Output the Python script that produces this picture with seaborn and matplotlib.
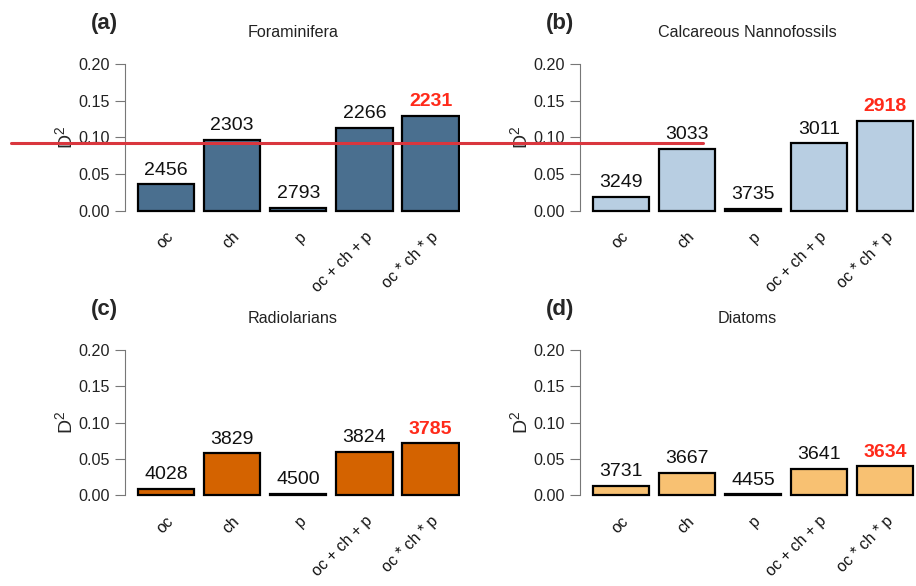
import seaborn as sns
import pandas as pd
import matplotlib.pyplot as plt
import matplotlib.transforms as mtransforms
from matplotlib.lines import Line2D

models = ["oc", "ch", "p", "oc + ch + p", "oc * ch * p"]

# D2 values
foram_d2 = [0.0366, 0.097, 0.004, 0.113, 0.1295]
nanno_d2 = [0.0192, 0.085, 0.003, 0.0924, 0.123]
radio_d2 = [0.0087, 0.058, 0.0018, 0.060, 0.0714]
diatom_d2 = [0.0132, 0.0305, 0.001, 0.036, 0.0396]

# numbers printed above the bars (AIC)
foram_aic = ["2456", "2303", "2793", "2266", "2231"]
nanno_aic = ["3249", "3033", "3735", "3011", "2918"]
radio_aic = ["4028", "3829", "4500", "3824", "3785"]
diatom_aic = ["3731", "3667", "4455", "3641", "3634"]

titles = ["Foraminifera", "Calcareous Nannofossils", "Radiolarians", "Diatoms"]
tags = ["(a)", "(b)", "(c)", "(d)"]
colors = ["#4a6f8f", "#b8cee2", "#d46300", "#f8c172"]
ref_level = 0.093

sns.set_style("white")
plt.rcParams["font.family"] = ["Liberation Sans", "DejaVu Sans"]
plt.rcParams["mathtext.fontset"] = "custom"
plt.rcParams["mathtext.rm"] = "Liberation Sans"

fig = plt.figure(figsize=(9.16, 5.86), dpi=100)
boxes = [
    [0.1365, 0.635, 0.366, 0.262],
    [0.633, 0.635, 0.366, 0.262],
    [0.1365, 0.150, 0.366, 0.259],
    [0.633, 0.150, 0.366, 0.259],
]

series = [(foram_d2, foram_aic), (nanno_d2, nanno_aic),
          (radio_d2, radio_aic), (diatom_d2, diatom_aic)]

axes = []
for i, (d2, aic) in enumerate(series):
    ax = fig.add_axes(boxes[i])
    df = pd.DataFrame({"model": models, "d2": d2})
    sns.barplot(data=df, x="model", y="d2", color=colors[i], saturation=1,
                edgecolor="black", linewidth=1.6, width=0.85, ax=ax)
    ax.set_xlim(-0.62, 4.45)
    ax.set_ylim(-0.004, 0.205)
    ax.set_yticks([0, 0.05, 0.10, 0.15, 0.20])
    ax.set_yticklabels(["0.00", "0.05", "0.10", "0.15", "0.20"])
    for s in ["top", "right", "bottom"]:
        ax.spines[s].set_visible(False)
    ax.spines["left"].set_bounds(0, 0.2)
    ax.spines["left"].set_color("#777777")
    ax.tick_params(axis="y", length=7, color="#777777", labelsize=11.6,
                   labelcolor="#222222", pad=4, left=True)
    ax.tick_params(axis="x", length=0, labelsize=11.4, pad=11,
                   labelcolor="#111111")
    plt.setp(ax.get_xticklabels(), rotation=45, ha="right",
             rotation_mode="anchor")
    ax.set_xlabel("")
    ax.set_ylabel("D$^2$", fontsize=14, labelpad=1)
    texts = ax.bar_label(ax.containers[0], labels=aic, padding=4, fontsize=14,
                         color="#111111")
    texts[-1].set_color("#ff2a1a")
    texts[-1].set_fontweight("bold")
    ax.set_title(titles[i], fontsize=11.6, pad=17, color="#222222")
    bb = boxes[i]
    fig.text(bb[0] - 0.022, bb[1] + bb[3] + 0.063, tags[i],
             fontsize=16, fontweight="bold", ha="center", va="center")
    axes.append(ax)

# red horizontal reference line drawn across the top row
trans = mtransforms.blended_transform_factory(fig.transFigure, axes[0].transData)
fig.add_artist(Line2D([0.012, 0.767], [ref_level, ref_level], transform=trans,
                      color="#d9363e", linewidth=2.2))

fig.savefig("out.png", dpi=100)
